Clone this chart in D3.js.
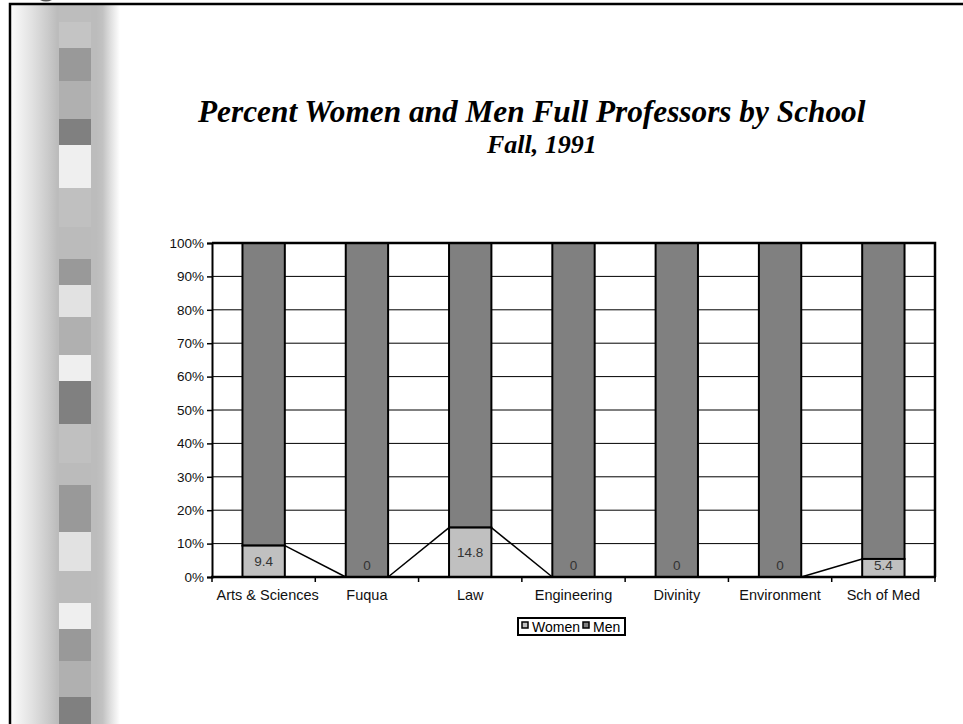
<!DOCTYPE html>
<html>
<head>
<meta charset="utf-8">
<script src="https://cdn.jsdelivr.net/npm/d3@7"></script>
<style>
  html, body { margin: 0; padding: 0; background: #fff; }
  svg { display: block; }
</style>
</head>
<body>
<svg id="chart" width="963" height="724"></svg>
<script>
// ---- data ----
const categories = ["Arts & Sciences", "Fuqua", "Law", "Engineering", "Divinity", "Environment", "Sch of Med"];
const women = [9.4, 0, 14.8, 0, 0, 0, 5.4];
const men = women.map(w => 100 - w);
const yTicks = [0, 10, 20, 30, 40, 50, 60, 70, 80, 90, 100];
const seriesNames = ["Women", "Men"];
const seriesColors = ["#c0c0c0", "#808080"];
const titleText = "Percent Women and Men Full Professors by School";
const subtitleText = "Fall, 1991";

// decorative slide strip: [startY, shade]
const stripStarts = [22, 48, 81, 119, 145, 188, 227, 259, 285, 317, 355, 381, 424, 463, 485, 532, 571, 603, 629, 661, 697];
const stripShades = ["#c4c4c4", "#999999", "#b0b0b0", "#808080", "#efefef", "#c0c0c0", "#bbbbbb", "#999999", "#e2e2e2", "#b0b0b0", "#efefef", "#808080", "#c0c0c0", "#bbbbbb", "#999999", "#e2e2e2", "#bbbbbb", "#efefef", "#999999", "#b0b0b0", "#808080"];

const svg = d3.select("#chart");
const W = 963, H = 724;

// ---- slide decoration ----
const defs = svg.append("defs");
const grad = defs.append("linearGradient").attr("id", "stripGrad").attr("x1", 0).attr("x2", 1).attr("y1", 0).attr("y2", 0);
[[0, "#fafafa"], [0.18, "#e2e2e2"], [0.33, "#cbcbcb"], [0.42, "#bcbcbc"], [0.78, "#bcbcbc"], [0.84, "#c2c2c2"], [0.92, "#e2e2e2"], [1, "#ffffff"]]
  .forEach(([o, c]) => grad.append("stop").attr("offset", o).attr("stop-color", c));
svg.append("rect").attr("x", 12).attr("y", 5).attr("width", 108).attr("height", H - 5).attr("fill", "url(#stripGrad)");
svg.append("rect").attr("x", 59).attr("y", 5).attr("width", 32).attr("height", H - 5).attr("fill", "#bdbdbd");
svg.selectAll("rect.blk").data(stripStarts).join("rect").attr("class", "blk")
  .attr("x", 59).attr("width", 32)
  .attr("y", d => d)
  .attr("height", (d, i) => (i + 1 < stripStarts.length ? stripStarts[i + 1] : H) - d)
  .attr("fill", (d, i) => stripShades[i]);
// frame
svg.append("path").attr("d", `M10,${H} L10,4 L${W},4`).attr("fill", "none").attr("stroke", "#000").attr("stroke-width", 2.5);
svg.append("path").attr("d", "M40,0 Q46,3 52,0 Z").attr("fill", "#555");

// ---- titles ----
svg.append("text").attr("x", 198).attr("y", 122)
  .attr("font-family", "'Liberation Serif', 'Times New Roman', serif")
  .attr("font-style", "italic").attr("font-weight", "bold").attr("font-size", 31.3)
  .attr("fill", "#000").text(titleText);
svg.append("text").attr("x", 487).attr("y", 153)
  .attr("font-family", "'Liberation Serif', 'Times New Roman', serif")
  .attr("font-style", "italic").attr("font-weight", "bold").attr("font-size", 26)
  .attr("fill", "#000").text(subtitleText);

// ---- scales ----
const x = d3.scaleBand().domain(categories).range([212, 935]).paddingInner(0.59).paddingOuter(0.295);
const y = d3.scaleLinear().domain([0, 100]).range([577, 243]);
const bw = x.bandwidth();
const step = x.step();
const font = "'Liberation Sans', Arial, sans-serif";

// gridlines
svg.append("g").selectAll("line").data(yTicks.filter(t => t > 0 && t < 100)).join("line")
  .attr("x1", 212).attr("x2", 935).attr("y1", d => y(d)).attr("y2", d => y(d))
  .attr("stroke", "#000").attr("stroke-width", 1);

// y axis
const yAxis = d3.axisLeft(y).tickValues(yTicks).tickFormat(d => d + "%").tickSize(5).tickPadding(3);
const gy = svg.append("g").attr("transform", "translate(212,0)").call(yAxis);
gy.select(".domain").attr("stroke", "#000").attr("stroke-width", 2);
gy.selectAll(".tick line").attr("stroke", "#000").attr("stroke-width", 1.5);
gy.selectAll(".tick text").attr("font-family", font).attr("font-size", 13.5).attr("fill", "#111");

// bars
const stackData = categories.map((c, i) => ({ c, w: women[i], m: men[i] }));
const gb = svg.append("g");
gb.selectAll("rect.men").data(stackData).join("rect").attr("class", "men")
  .attr("x", d => x(d.c)).attr("width", bw)
  .attr("y", d => y(d.w + d.m)).attr("height", d => y(d.w) - y(d.w + d.m))
  .attr("fill", seriesColors[1]).attr("stroke", "#000").attr("stroke-width", 2);
gb.selectAll("rect.women").data(stackData.filter(d => d.w > 0)).join("rect").attr("class", "women")
  .attr("x", d => x(d.c)).attr("width", bw)
  .attr("y", d => y(d.w)).attr("height", d => y(0) - y(d.w))
  .attr("fill", seriesColors[0]).attr("stroke", "#000").attr("stroke-width", 2);

// series lines
const segs = d3.pairs(stackData);
svg.append("g").selectAll("line").data(segs).join("line")
  .attr("x1", d => x(d[0].c) + bw).attr("y1", d => y(d[0].w))
  .attr("x2", d => x(d[1].c)).attr("y2", d => y(d[1].w))
  .attr("stroke", "#000").attr("stroke-width", 1.5);

// plot border top/right
svg.append("path").attr("d", `M212,${y(100)} L935,${y(100)} L935,${y(0)}`)
  .attr("fill", "none").attr("stroke", "#000").attr("stroke-width", 2.5);

// x axis
const gx = svg.append("g").attr("transform", `translate(0,${y(0)})`);
gx.append("line").attr("x1", 211).attr("x2", 936).attr("stroke", "#000").attr("stroke-width", 2.5);
gx.selectAll("line.tk").data(d3.range(categories.length + 1)).join("line").attr("class", "tk")
  .attr("x1", i => 212 + i * step).attr("x2", i => 212 + i * step)
  .attr("y1", 0).attr("y2", 5).attr("stroke", "#000").attr("stroke-width", 1.5);
gx.selectAll("text").data(categories).join("text")
  .attr("x", (d, i) => x(d) + bw / 2 + (i === 0 ? 4 : 0)).attr("y", 22.5)
  .attr("text-anchor", "middle").attr("font-family", font).attr("font-size", 14.5).attr("fill", "#111")
  .text(d => d);

// data labels
svg.append("g").selectAll("text").data(stackData).join("text")
  .attr("x", d => x(d.c) + bw / 2)
  .attr("y", d => Math.min((y(d.w) + y(0)) / 2, y(0) - 12) + 5)
  .attr("text-anchor", "middle").attr("font-family", font).attr("font-size", 13.5).attr("fill", "#333")
  .text(d => d.w);

// legend
const lg = svg.append("g");
lg.append("rect").attr("x", 518).attr("y", 618).attr("width", 107).attr("height", 17)
  .attr("fill", "#fff").attr("stroke", "#000").attr("stroke-width", 2);
const legX = [522, 583];
seriesNames.forEach((s, i) => {
  lg.append("rect").attr("x", legX[i]).attr("y", 622).attr("width", 6).attr("height", 6)
    .attr("fill", seriesColors[i]).attr("stroke", "#000").attr("stroke-width", 1.5);
  lg.append("text").attr("x", legX[i] + 10).attr("y", 632)
    .attr("font-family", font).attr("font-size", 14).attr("fill", "#000").text(s);
});
</script>
</body>
</html>
